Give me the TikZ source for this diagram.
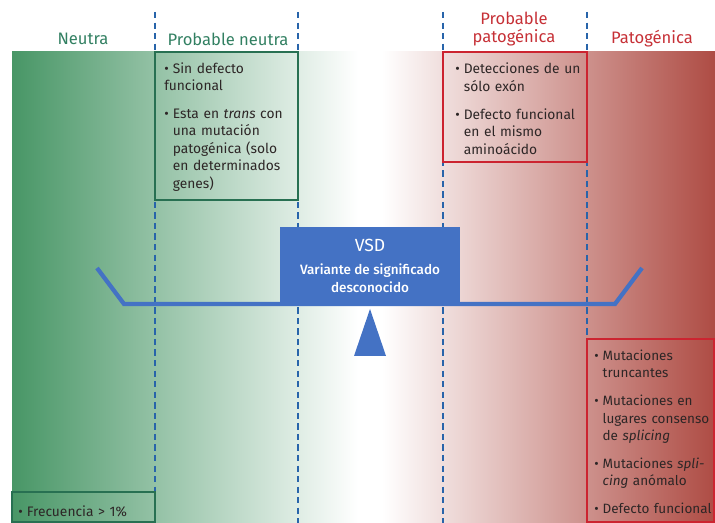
\documentclass[tikz,border=0pt]{standalone}
\usepackage{fontspec}
\setmainfont{Fira Sans}
\newfontfamily\medfont{Fira Sans Medium}
\usepackage{xcolor}
\usetikzlibrary{positioning}

\definecolor{bandgreen}{RGB}{72,150,102}
\definecolor{bandred}{RGB}{174,76,68}
\definecolor{vsdblue}{RGB}{68,114,196}
\definecolor{dashblue}{RGB}{40,100,170}
\definecolor{hdrgreen}{RGB}{50,128,98}
\definecolor{hdrred}{RGB}{198,48,54}
\definecolor{boxgreen}{RGB}{40,112,82}
\definecolor{boxred}{RGB}{204,36,48}
\definecolor{bodytext}{RGB}{45,38,38}

% bullet item with hanging indent
\newcommand{\itm}[1]{\par\hangindent=0.62em\hangafter=1\noindent\makebox[0.62em][l]{\textbullet}#1}
\newcommand{\itmgap}{\par\vspace{7.5pt}}

\begin{document}
\begin{tikzpicture}[
    x=0.025cm, y=-0.025cm,
    hdr/.style={font=\fontsize{11.8}{12.8}\selectfont, align=center, text=#1, inner sep=0pt},
    hdr/.default=hdrgreen,
    lst/.style={anchor=north west, text width=#1, align=left, inner sep=0pt, text=bodytext, font=\fontsize{9.8}{12.4}\selectfont},
    lst/.default=3.4cm,
    frame/.style={draw=#1, line width=0.9pt},
    vline/.style={dashblue, line width=1pt, dash pattern=on 4.5pt off 3pt},
    vsdbox/.style={rectangle, fill=vsdblue, text=white, minimum width=4.5cm, minimum height=1.925cm, align=center, inner sep=0pt, font=\medfont\fontsize{9.6}{12.8}\selectfont}
]
\useasboundingbox (0,0) rectangle (715,523);

% ---- BACKGROUND BAND ----
\shade[left color=bandgreen, right color=white] (12,52) rectangle (358,523);
\fill[white] (358,52) rectangle (382,523);
\shade[left color=white, right color=bandred] (382,52) rectangle (715,523);

% ---- COLUMN SEPARATORS ----
\foreach \xx in {155,298,443,587}
    \draw[vline] (\xx,12) -- (\xx,523);

% ---- HEADERS ----
\node[hdr] (hneu) at (83,39) {Neutra};
\node[hdr] (hpneu) at (228,39) {Probable neutra};
\node[hdr=hdrred] (hppat) at (514,29) {Probable\\patogénica};
\node[hdr=hdrred] (hpat) at (652,39) {Patogénica};

% ---- CRITERIA BOXES ----
\draw[frame=boxgreen] (155,52) rectangle (298,200);
\draw[frame=boxred] (443,52) rectangle (587,162);
\draw[frame=boxred] (587,339) rectangle (714,522);
\draw[frame=boxgreen] (12,492) rectangle (155,522);

\node[lst] (pneulist) at (164,62) {%
    \noindent\makebox[0.62em][l]{\textbullet}Sin defecto\newline funcional\itmgap
    \itm{Esta en \emph{trans} con\newline una mutación\newline patogénica (solo\newline en determinados\newline genes)}\par};

\node[lst] (ppatlist) at (455,56) {%
    \itm{Detecciones de un\newline sólo exón}\itmgap
    \itm{Defecto funcional\newline en el mismo\newline aminoácido}\par};

\node[lst, font=\fontsize{9.6}{12.3}\selectfont] (patlist) at (594,343) {%
    \itm{Mutaciones\newline truncantes}\itmgap
    \itm{Mutaciones en\newline lugares consenso\newline de \emph{splicing}}\itmgap
    \itm{Mutaciones \emph{spli-}\newline\emph{cing} anómalo}\itmgap
    \itm{Defecto funcional}\par};

\node[lst, anchor=west] (neulist) at (18,508) {\itm{Frecuencia > 1\%}\par};

% ---- BALANCE ----
\draw[vsdblue, line width=3pt, line join=miter] (97,268) -- (124,304) -- (615,304) -- (642,268);
\fill[vsdblue] (370,309) -- (386,356) -- (354,356) -- cycle;

\node[vsdbox] (vsd) at (370,266) {{\fontsize{12.5}{13}\fontspec{Fira Sans}VSD}\\[4pt]Variante de significado\\desconocido};

\end{tikzpicture}
\end{document}
